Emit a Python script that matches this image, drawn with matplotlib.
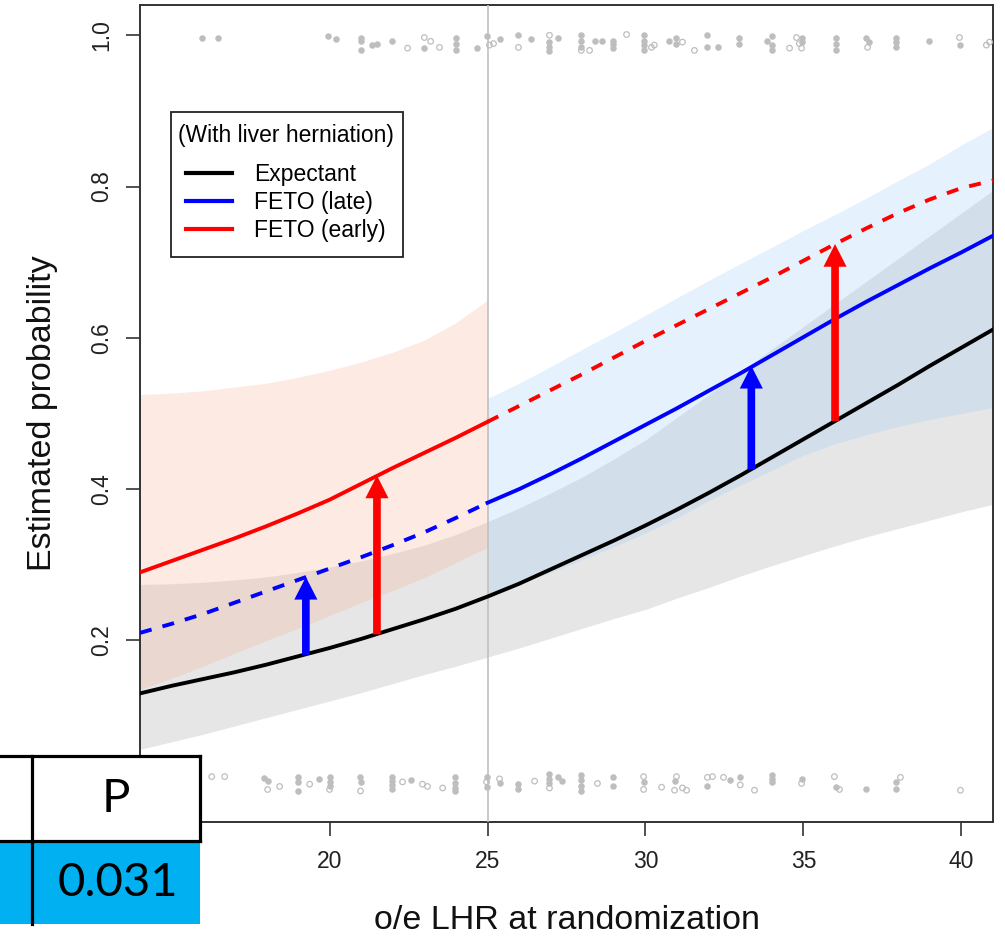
#!/usr/bin/env python3
"""Estimated probability vs o/e LHR, expectant vs FETO, with liver herniation."""

import matplotlib
matplotlib.use("Agg")
import matplotlib.pyplot as plt
from matplotlib.patches import Rectangle
from matplotlib.lines import Line2D

plt.rcParams["font.family"] = ["Liberation Sans", "DejaVu Sans"]

W, H = 1005, 938

# ---- data ----
LHR = [14, 15, 16, 17, 18, 19, 20, 21, 22, 23, 24, 25, 26, 27,
       28, 29, 30, 31, 32, 33, 34, 35, 36, 37, 38, 39, 40, 41]

EXPECTANT = [0.130, 0.140, 0.149, 0.158, 0.168, 0.179, 0.190, 0.202, 0.215, 0.228,
             0.242, 0.258, 0.275, 0.294, 0.313, 0.332, 0.352, 0.373, 0.395, 0.418,
             0.442, 0.466, 0.490, 0.514, 0.538, 0.563, 0.587, 0.611]
EXPECTANT_LO = [0.056, 0.066, 0.076, 0.087, 0.098, 0.109, 0.120, 0.131, 0.143, 0.155,
                0.166, 0.178, 0.190, 0.203, 0.216, 0.229, 0.241, 0.256, 0.270, 0.285,
                0.299, 0.312, 0.325, 0.337, 0.348, 0.359, 0.370, 0.380]
EXPECTANT_HI = [0.274, 0.275, 0.277, 0.280, 0.284, 0.290, 0.297, 0.305, 0.315, 0.326,
                0.340, 0.357, 0.375, 0.395, 0.416, 0.440, 0.465, 0.495, 0.525, 0.555,
                0.585, 0.615, 0.645, 0.675, 0.705, 0.735, 0.765, 0.795]

FETO_LATE = [0.210, 0.222, 0.235, 0.250, 0.265, 0.280, 0.295, 0.310, 0.326, 0.343,
             0.362, 0.382, 0.400, 0.420, 0.441, 0.463, 0.485, 0.507, 0.530, 0.553,
             0.577, 0.601, 0.625, 0.648, 0.670, 0.692, 0.713, 0.735]
FETO_EARLY = [0.290, 0.305, 0.320, 0.335, 0.351, 0.368, 0.386, 0.407, 0.428, 0.448,
              0.468, 0.489, 0.510, 0.531, 0.552, 0.574, 0.596, 0.617, 0.638, 0.659,
              0.680, 0.702, 0.724, 0.745, 0.765, 0.783, 0.798, 0.808]

# early FETO band, shown for o/e LHR <= 25
EARLY_BAND_X = [14, 15, 16, 17, 18, 19, 20, 21, 22, 23, 24, 25]
EARLY_LO = [0.135, 0.150, 0.166, 0.183, 0.200, 0.216, 0.233, 0.250, 0.266, 0.283, 0.303, 0.323]
EARLY_HI = [0.525, 0.527, 0.530, 0.535, 0.540, 0.548, 0.557, 0.568, 0.581, 0.597, 0.620, 0.650]

# late FETO band, shown for o/e LHR >= 25
LATE_BAND_X = [25, 26, 27, 28, 29, 30, 31, 32, 33, 34, 35, 36, 37, 38, 39, 40, 41]
LATE_LO = [0.260, 0.275, 0.290, 0.307, 0.324, 0.342, 0.362, 0.385, 0.405, 0.425,
           0.445, 0.460, 0.472, 0.483, 0.492, 0.500, 0.508]
LATE_HI = [0.520, 0.540, 0.562, 0.585, 0.607, 0.630, 0.653, 0.676, 0.698, 0.720,
           0.742, 0.763, 0.785, 0.808, 0.830, 0.855, 0.878]

CUTOFF = 25

ARROW_X = [19.25, 21.5, 33.35, 36.0]
ARROW_FROM = [0.181, 0.208, 0.426, 0.490]
ARROW_TO = [0.284, 0.418, 0.563, 0.724]
ARROW_COLOR = ["#0000ff", "#ff0000", "#0000ff", "#ff0000"]

# jittered observed outcomes (rug of points)
TOP_FILLED_X = [15.95, 16.46, 19.94, 20.19, 20.98, 20.98, 20.98, 21.33, 21.49, 21.99,
                23.0, 23.99, 23.99, 23.99, 24.68, 24.97, 25.38, 25.98, 26.39, 26.96,
                26.96, 26.96, 27.22, 27.97, 27.97, 27.97, 28.39, 28.61, 28.96, 28.96,
                28.96, 29.94, 29.94, 29.94, 29.94, 30.76, 30.98, 30.98, 31.96, 31.96,
                32.28, 32.97, 32.97, 33.86, 33.99, 33.99, 33.99, 34.94, 34.94, 36.04,
                36.04, 36.04, 36.99, 37.06, 37.94, 37.94, 37.94, 38.96, 39.94]
TOP_FILLED_Y = [0.996, 0.996, 0.999, 0.995, 0.997, 0.992, 0.980, 0.987, 0.989, 0.992,
                0.983, 0.996, 0.989, 0.980, 0.983, 0.999, 0.995, 1.001, 0.995, 0.991,
                0.985, 0.979, 0.996, 1.000, 0.992, 0.985, 0.992, 0.992, 0.993, 0.988,
                0.983, 1.000, 0.993, 0.987, 0.980, 0.993, 0.997, 0.989, 1.001, 0.984,
                0.984, 0.996, 0.989, 0.993, 0.999, 0.987, 0.980, 0.997, 0.991, 0.997,
                0.989, 0.980, 0.997, 0.991, 0.997, 0.991, 0.984, 0.992, 0.987]
TOP_OPEN_X = [22.47, 23.0, 23.2, 23.48, 25.06, 25.19, 25.98, 26.96, 27.97, 28.23,
              29.4, 30.19, 30.28, 31.17, 31.55, 34.56, 34.78, 34.87, 34.94, 37.03,
              39.94, 40.79, 40.89]
TOP_OPEN_Y = [0.983, 0.997, 0.992, 0.984, 0.987, 0.989, 0.984, 1.000, 0.980, 0.980,
              1.001, 0.984, 0.987, 0.991, 0.980, 0.983, 0.997, 0.989, 0.983, 0.984,
              0.997, 0.987, 0.991]
BOT_FILLED_X = [17.94, 18.04, 18.99, 18.99, 18.99, 19.68, 20.0, 20.0, 20.0, 20.95,
                20.98, 21.99, 21.99, 21.99, 21.99, 22.59, 23.96, 23.96, 23.96, 23.96,
                24.97, 24.97, 25.38, 25.95, 25.95, 26.96, 26.96, 26.96, 27.22, 27.37,
                27.97, 27.97, 27.97, 27.97, 28.96, 28.96, 29.94, 30.92, 31.96, 32.66,
                33.0, 33.99, 33.99, 33.99, 34.94, 36.04, 36.99, 37.94, 37.94]
BOT_FILLED_Y = [0.018, 0.014, 0.019, 0.013, 0.001, 0.017, 0.020, 0.013, 0.007, 0.020,
                0.013, 0.020, 0.014, 0.009, 0.003, 0.015, 0.019, 0.012, 0.005, 0.001,
                0.019, 0.006, 0.011, 0.010, 0.003, 0.023, 0.017, 0.012, 0.019, 0.014,
                0.022, 0.015, 0.008, 0.001, 0.019, 0.007, 0.013, 0.014, 0.007, 0.015,
                0.020, 0.022, 0.017, 0.013, 0.017, 0.006, 0.003, 0.013, 0.003]
BOT_OPEN_X = [16.27, 16.68, 18.04, 18.42, 19.37, 20.0, 20.98, 22.31, 22.94, 23.1,
              23.58, 24.97, 25.38, 26.49, 26.96, 28.48, 29.94, 29.94, 30.51, 30.98,
              30.92, 31.17, 31.3, 31.96, 32.12, 32.47, 33.0, 33.45, 34.94, 35.98,
              36.14, 38.07, 39.97]
BOT_OPEN_Y = [0.020, 0.020, 0.003, 0.007, 0.010, 0.003, 0.001, 0.013, 0.010, 0.007,
              0.005, 0.013, 0.017, 0.014, 0.005, 0.011, 0.020, 0.003, 0.006, 0.020,
              0.002, 0.005, 0.002, 0.019, 0.020, 0.019, 0.009, 0.002, 0.011, 0.020,
              0.003, 0.019, 0.002]

X_TICKS = [15, 20, 25, 30, 35, 40]
Y_TICKS = [0.0, 0.2, 0.4, 0.6, 0.8, 1.0]
# the 15 and 0.0 labels sit under the pasted table in the original
X_TICK_LABELS = ["", "20", "25", "30", "35", "40"]
Y_TICK_LABELS = ["", "0.2", "0.4", "0.6", "0.8", "1.0"]

LEGEND_TITLE = "(With liver herniation)"
LEGEND_LABELS = ["Expectant", "FETO (late)", "FETO (early)"]

TABLE_HEADER = ["", "P"]
TABLE_ROW = ["", "0.031"]


def fig_xy(px, py):
    return px / W, 1 - py / H


def main():
    fig = plt.figure(figsize=(W / 100, H / 100), dpi=100)
    ax = fig.add_axes([140 / W, 1 - 822 / H, 853 / W, 817 / H])
    ax.set_xlim(14.0, 41.0)
    ax.set_ylim(-0.04, 1.04)

    # confidence bands
    ax.fill_between(LHR, EXPECTANT_LO, EXPECTANT_HI, color="#e6e6e6", lw=0, zorder=1)
    ax.fill_between(EARLY_BAND_X, EARLY_LO, EARLY_HI, color=(0.97, 0.675, 0.557),
                    alpha=0.24, lw=0, zorder=2)
    ax.fill_between(LATE_BAND_X, LATE_LO, LATE_HI, color=(0.59, 0.79, 0.97),
                    alpha=0.24, lw=0, zorder=2)

    ax.axvline(CUTOFF, color="#c0c0c0", lw=1.2, zorder=3)

    # rug of observed outcomes
    rug = "#bebebe"
    ax.scatter(TOP_FILLED_X, TOP_FILLED_Y, s=22, color=rug, lw=0, zorder=3)
    ax.scatter(BOT_FILLED_X, BOT_FILLED_Y, s=22, color=rug, lw=0, zorder=3)
    ax.scatter(TOP_OPEN_X, TOP_OPEN_Y, s=16, facecolors="none", edgecolors=rug,
               lw=0.9, zorder=3)
    ax.scatter(BOT_OPEN_X, BOT_OPEN_Y, s=16, facecolors="none", edgecolors=rug,
               lw=0.9, zorder=3)

    # curves: solid on the range where each arm applies, dashed elsewhere
    cut = LHR.index(CUTOFF)
    dash = (0, (3.1, 2.9))
    lw = 2.8
    ax.plot(LHR, EXPECTANT, color="black", lw=lw, zorder=5)
    ax.plot(LHR[:cut + 1], FETO_LATE[:cut + 1], color="#0000ff", lw=lw, ls=dash, zorder=5)
    ax.plot(LHR[cut:], FETO_LATE[cut:], color="#0000ff", lw=lw, zorder=5)
    ax.plot(LHR[:cut + 1], FETO_EARLY[:cut + 1], color="#ff0000", lw=lw, zorder=5)
    ax.plot(LHR[cut:], FETO_EARLY[cut:], color="#ff0000", lw=lw, ls=dash, zorder=5)

    # treatment-effect arrows
    for x, y0, y1, c in zip(ARROW_X, ARROW_FROM, ARROW_TO, ARROW_COLOR):
        ax.arrow(x, y0, 0, y1 - y0, width=0.243, head_width=0.73, head_length=0.030,
                 length_includes_head=True, color=c, lw=0, zorder=6)

    # axes styling, R-like
    for spine in ax.spines.values():
        spine.set_color("#333333")
        spine.set_linewidth(1.4)
    ax.set_xticks(X_TICKS)
    ax.set_xticklabels(X_TICK_LABELS)
    ax.set_yticks(Y_TICKS)
    ax.set_yticklabels(Y_TICK_LABELS, rotation=90, va="center")
    ax.tick_params(length=10, width=1.2, color="#333333", labelsize=16.5,
                   labelcolor="#222222")
    ax.tick_params(axis="x", pad=10)
    ax.tick_params(axis="y", pad=9)
    ax.set_xlabel("o/e LHR at randomization", fontsize=24.5, color="#111111")
    ax.set_ylabel("Estimated probability", fontsize=24.5, color="#111111")
    ax.xaxis.set_label_coords(0.5, -0.102)
    ax.yaxis.set_label_coords(-0.096, 0.5)

    # legend: R-style box drawn by hand, entries from ax.legend
    bx0, by0 = fig_xy(171, 257)
    ax.add_patch(Rectangle((bx0, by0), (403 - 171) / W, (257 - 112) / H,
                           transform=fig.transFigure, facecolor="white",
                           edgecolor="#222222", lw=1.3, zorder=7, clip_on=False))
    handles = [Line2D([], [], color=c, lw=3) for c in ("black", "#0000ff", "#ff0000")]
    leg = ax.legend(handles, LEGEND_LABELS, title=LEGEND_TITLE, loc="upper left",
                    bbox_to_anchor=(24 / 853, 1 - 105 / 817), borderaxespad=0,
                    fontsize=16.5, title_fontsize=16.5, frameon=False,
                    handlelength=2.0, handletextpad=0.95, labelspacing=0.22,
                    borderpad=0.6)
    leg._legend_box.sep = 12
    leg.set_zorder(8)

    # p-value table pasted over the lower-left corner
    col_x = [-60, 32, 200]
    row_y = [756, 841, 924]
    fills = ["white", "#00b0f0"]
    for r, (cells, fill) in enumerate(zip([TABLE_HEADER, TABLE_ROW], fills)):
        for c, text in enumerate(cells):
            x0, x1 = col_x[c], col_x[c + 1]
            y0, y1 = row_y[r], row_y[r + 1]
            fx, fy = fig_xy(x0, y1)
            fig.add_artist(Rectangle((fx, fy), (x1 - x0) / W, (y1 - y0) / H,
                                     transform=fig.transFigure, facecolor=fill,
                                     edgecolor="none", zorder=20))
            if text:
                tx, ty = fig_xy(x1 - 22, (y0 + y1) / 2)
                if r == 0:
                    tx, _ = fig_xy((x0 + x1) / 2, 0)
                    ha = "center"
                else:
                    ha = "right"
                fig.text(tx, ty, text, ha=ha, va="center", fontsize=34,
                         family=["Lato", "DejaVu Sans"], color="black", zorder=22)
    lw_tab = 2.3
    for seg in ([(0, 756), (200, 756)], [(0, 841), (200, 841)],
                [(32, 756), (32, 924)], [(200, 756), (200, 841)]):
        (ax0, ay0), (ax1, ay1) = fig_xy(*seg[0]), fig_xy(*seg[1])
        fig.add_artist(Line2D([ax0, ax1], [ay0, ay1], transform=fig.transFigure,
                              color="black", lw=lw_tab, zorder=21))

    fig.savefig("out.png", dpi=100)
    plt.close(fig)


if __name__ == "__main__":
    main()
